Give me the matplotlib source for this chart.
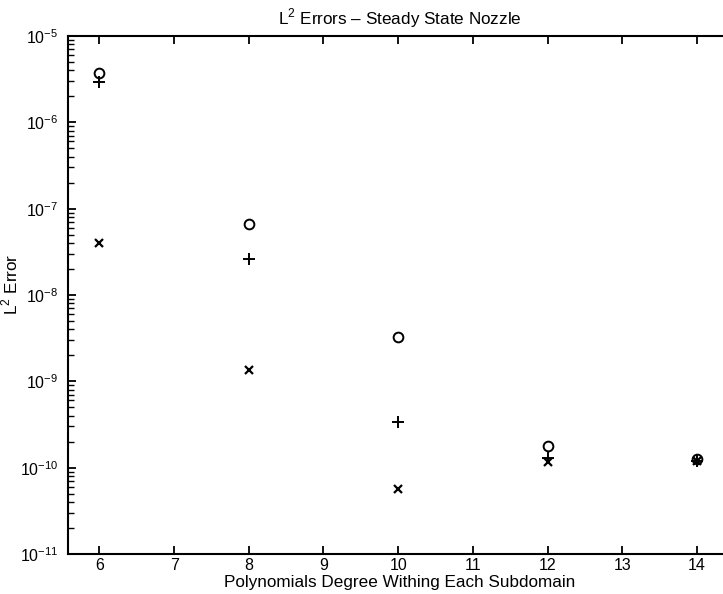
import matplotlib
matplotlib.use("Agg")
import matplotlib.pyplot as plt
from matplotlib.ticker import LogLocator, NullFormatter, FixedLocator

plt.rcParams['font.family'] = ['Liberation Sans', 'DejaVu Sans']
plt.rcParams['mathtext.fontset'] = 'custom'
plt.rcParams['mathtext.rm'] = 'Liberation Sans'

degrees = [6, 8, 10, 12, 14]
err_circle = [3.73e-6, 6.6e-8, 3.25e-9, 1.77e-10, 1.26e-10]
err_plus = [2.93e-6, 2.6e-8, 3.4e-10, 1.3e-10, 1.2e-10]
err_x = [3.98e-8, 1.35e-9, 5.6e-11, 1.16e-10, 1.2e-10]
xticks = [6, 7, 8, 9, 10, 11, 12, 13, 14]

W, H = 723, 594
fig = plt.figure(figsize=(W/100, H/100), dpi=100)
ax = fig.add_axes([68/W, (H-554)/H, 663/W, 518/H])

ax.semilogy(degrees, err_circle, linestyle='none', marker='o', markersize=7,
            markerfacecolor='none', markeredgecolor='black', markeredgewidth=1.4)
ax.semilogy(degrees, err_plus, linestyle='none', marker='+', markersize=8,
            color='black', markeredgewidth=1.4)
ax.semilogy(degrees, err_x, linestyle='none', marker='x', markersize=5.5,
            color='black', markeredgewidth=1.6)

ax.set_xlim(5.58, 14.455)
ax.set_ylim(1e-11, 1e-5)
ax.xaxis.set_major_locator(FixedLocator(xticks))
ax.yaxis.set_major_locator(LogLocator(base=10, numticks=10))
ax.yaxis.set_minor_locator(LogLocator(base=10, subs=range(2, 10), numticks=20))
ax.yaxis.set_minor_formatter(NullFormatter())

ax.tick_params(which='both', direction='in', top=True, right=True, labelsize=11.5)
ax.tick_params(which='major', length=6, width=1.3)
ax.tick_params(which='minor', length=4, width=1.0)
ax.tick_params(axis='y', which='major', pad=7)
ax.tick_params(axis='x', which='major', pad=3)
for s in ax.spines.values():
    s.set_linewidth(1.5)

ax.set_xlabel('Polynomials Degree Withing Each Subdomain', fontsize=12.3)
ax.xaxis.set_label_coords(0.5, -0.040)
ax.set_ylabel(r'L$^2$ Error', fontsize=12.3)
ax.yaxis.set_label_coords(-0.072, 0.52)
ax.set_title(r'L$^2$ Errors – Steady State Nozzle', fontsize=12.3, pad=8)

fig.savefig('out.png', dpi=100)
